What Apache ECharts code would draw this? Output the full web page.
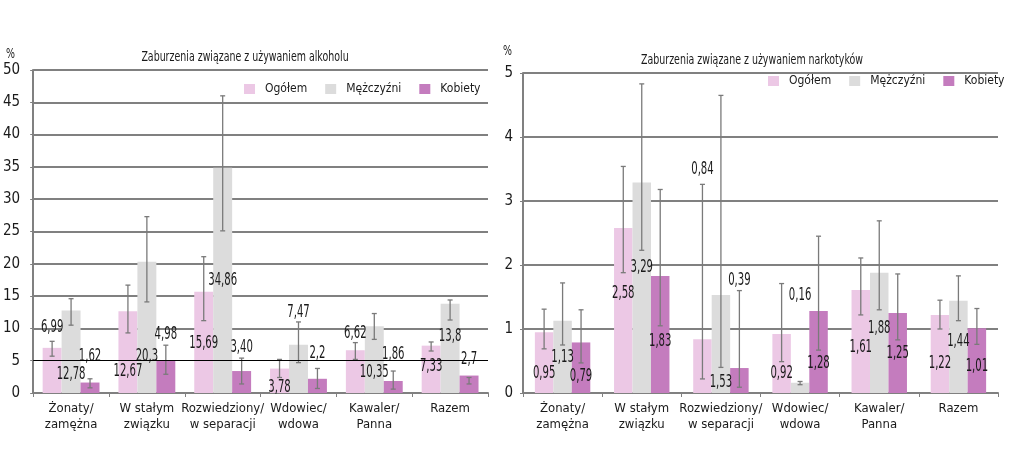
<!DOCTYPE html>
<html lang="pl">
<head>
<meta charset="UTF-8">
<title>Zaburzenia związane z używaniem alkoholu i narkotyków</title>
<script src="https://cdn.jsdelivr.net/npm/echarts@6/dist/echarts.min.js"></script>
<style>
  html, body { margin: 0; padding: 0; background: #fff; }
  #chart { width: 1024px; height: 464px; }
</style>
</head>
<body>
<div id="chart"></div>
<script>
// kategorie
const categories = ['Żonaty/\nzamężna', 'W stałym\nzwiązku', 'Rozwiedziony/\nw separacji', 'Wdowiec/\nwdowa', 'Kawaler/\nPanna', 'Razem'];
const seriesNames = ['Ogółem', 'Mężczyźni', 'Kobiety'];

// alkohol (%)
const alcTotal = ['6.99', '12.67', '15.69', '3.78', '6.62', '7.33'];
const alcMen = ['12.78', '20.3', '34.86', '7.47', '10.35', '13.8'];
const alcWomen = ['1.62', '4.98', '3.40', '2.2', '1.86', '2.7'];
const alcTotalLow = [5.7, 9.3, 11.2, 2.4, 5.2, 6.5];
const alcTotalHigh = [8.0, 16.7, 21.1, 5.2, 7.8, 7.9];
const alcMenLow = [10.5, 14.1, 25.1, 4.7, 8.3, 11.3];
const alcMenHigh = [14.6, 27.3, 46.0, 11.0, 12.3, 14.4];
const alcWomenLow = [0.8, 2.9, 1.4, 0.7, 0.6, 1.4];
const alcWomenHigh = [2.2, 7.4, 5.4, 3.8, 3.4, 2.4];

// narkotyki (%)
const drugTotal = ['0.95', '2.58', '0.84', '0.92', '1.61', '1.22'];
const drugMen = ['1.13', '3.29', '1.53', '0.16', '1.88', '1.44'];
const drugWomen = ['0.79', '1.83', '0.39', '1.28', '1.25', '1.01'];
const drugTotalLow = [0.69, 1.88, 0.22, 0.49, 1.22, 1.0];
const drugTotalHigh = [1.31, 3.54, 3.26, 1.71, 2.11, 1.45];
const drugMenLow = [0.75, 2.23, 0.4, 0.13, 1.3, 1.13];
const drugMenHigh = [1.72, 4.83, 4.65, 0.18, 2.69, 1.83];
const drugWomenLow = [0.47, 1.05, 0.09, 0.67, 0.83, 0.76];
const drugWomenHigh = [1.3, 3.18, 1.6, 2.45, 1.86, 1.32];

// gdzie w oryginale stoją etykiety wartości (w jednostkach osi)
const alcLabelAt = [
  [10.2, 3.3, 7.7, 0.8, 9.2, 4.1],
  [2.9, 5.6, 17.4, 12.4, 3.2, 8.8],
  [5.7, 9.1, 7.0, 6.1, 5.9, 5.2]
];
const drugLabelAt = [
  [0.31, 1.56, 3.49, 0.31, 0.71, 0.46],
  [0.55, 1.96, 0.17, 1.52, 1.01, 0.80],
  [0.25, 0.80, 1.75, 0.46, 0.62, 0.42]
];

const colors = ['#ecc8e5', '#dcdcdc', '#c47cbe'];
const FONT = "'Liberation Sans Narrow', 'DejaVu Sans Condensed', 'Liberation Sans', sans-serif";
const GRID_COLOR = '#808080';
const INK = '#1a1a1a';
// oryginał używa bardzo wąskiego kroju
const LABEL_SQUEEZE = 0.66;
const TITLE_SQUEEZE = 0.75;

function barSeries(axis, values, gap) {
  return values.map((vals, s) => ({
    name: seriesNames[s],
    type: 'bar',
    xAxisIndex: axis,
    yAxisIndex: axis,
    data: vals,
    barGap: '0%',
    barCategoryGap: gap * 100 + '%',
    itemStyle: { color: colors[s] },
    z: 2,
    silent: true
  }));
}

// słupki błędu + etykiety w jednej serii custom
function errorSeries(axis, values, lows, highs, labelAt, gap) {
  const data = [];
  const texts = [];
  for (let s = 0; s < 3; s++) {
    for (let c = 0; c < categories.length; c++) {
      data.push([c, lows[s][c], highs[s][c], labelAt[s][c], s]);
      texts.push(values[s][c].replace('.', ','));
    }
  }
  return {
    type: 'custom',
    xAxisIndex: axis,
    yAxisIndex: axis,
    data: data,
    z: 4,
    silent: true,
    renderItem: function (params, api) {
      const c = api.value(0), s = api.value(4);
      const band = api.size([1, 0])[0];
      const bw = band * (1 - gap) / 3;
      const x = api.coord([c, 0])[0] + (s - 1) * bw;
      const lo = api.coord([c, api.value(1)])[1];
      const hi = api.coord([c, api.value(2)])[1];
      const ly = api.coord([c, api.value(3)])[1];
      const st = { stroke: '#7a7a7a', lineWidth: 1.3 };
      return {
        type: 'group',
        children: [
          { type: 'line', shape: { x1: x, y1: lo, x2: x, y2: hi }, style: st },
          { type: 'line', shape: { x1: x - 2.5, y1: lo, x2: x + 2.5, y2: lo }, style: st },
          { type: 'line', shape: { x1: x - 2.5, y1: hi, x2: x + 2.5, y2: hi }, style: st },
          {
            type: 'text', z2: 10, x: x, y: ly, scaleX: LABEL_SQUEEZE,
            style: {
              text: texts[params.dataIndex], x: 0, y: 0,
              align: 'center', verticalAlign: 'middle',
              fontFamily: FONT, fontSize: 17, fill: INK
            }
          }
        ]
      };
    }
  };
}

function xAxis(grid) {
  return {
    type: 'category', gridIndex: grid, data: categories,
    axisLine: { lineStyle: { color: GRID_COLOR, width: 2 } },
    axisTick: { show: true, length: 4, lineStyle: { color: GRID_COLOR } },
    axisLabel: { fontFamily: FONT, fontSize: 13, color: INK, margin: 8, lineHeight: 16, interval: 0 }
  };
}

function yAxis(grid, max, interval, margin, lineColors) {
  return {
    type: 'value', gridIndex: grid, min: 0, max: max, interval: interval,
    axisLine: { show: true, lineStyle: { color: GRID_COLOR, width: 2 } },
    axisTick: { show: true, length: 3, lineStyle: { color: GRID_COLOR } },
    axisLabel: { fontFamily: FONT, fontSize: 15, color: INK, margin: margin },
    splitLine: { show: true, lineStyle: { color: lineColors, width: 2 } }
  };
}

function squeezedText(text, x, y, size, align) {
  return {
    type: 'text', x: x, y: y, scaleX: TITLE_SQUEEZE, silent: true,
    style: { text: text, x: 0, y: 0, align: align, verticalAlign: 'middle',
      fontFamily: FONT, fontSize: size, fill: INK }
  };
}

const GAP_L = 0.25, GAP_R = 0.30;
const leftLines = [GRID_COLOR, 'rgba(0,0,0,0)', GRID_COLOR, GRID_COLOR, GRID_COLOR, GRID_COLOR,
  GRID_COLOR, GRID_COLOR, GRID_COLOR, GRID_COLOR, GRID_COLOR];

const legendText = { fontFamily: FONT, fontSize: 12, color: INK, padding: [0, 0, 0, 5] };

const chart = echarts.init(document.getElementById('chart'), null, { renderer: 'canvas' });
chart.setOption({
  animation: false,
  textStyle: { fontFamily: FONT },
  graphic: [
    squeezedText('Zaburzenia związane z używaniem alkoholu', 245, 57, 14, 'center'),
    squeezedText('Zaburzenia związane z używaniem narkotyków', 752, 60, 14, 'center'),
    squeezedText('%', 6, 54, 14, 'left'),
    squeezedText('%', 503, 51, 14, 'left')
  ],
  legend: [
    { data: seriesNames, left: 244, top: 83, icon: 'rect', itemWidth: 11, itemHeight: 10, itemGap: 18,
      padding: 0, selectedMode: false, textStyle: legendText },
    { data: seriesNames, left: 768, top: 75, icon: 'rect', itemWidth: 11, itemHeight: 10, itemGap: 18,
      padding: 0, selectedMode: false, textStyle: legendText }
  ],
  grid: [
    { left: 30, top: 70, width: 458, height: 323 },
    { left: 523, top: 73, width: 475, height: 320 }
  ],
  xAxis: [xAxis(0), xAxis(1)],
  yAxis: [yAxis(0, 50, 5, 13, leftLines), yAxis(1, 5, 1, 10, GRID_COLOR)],
  series: [
    ...barSeries(0, [alcTotal, alcMen, alcWomen], GAP_L),
    ...barSeries(1, [drugTotal, drugMen, drugWomen], GAP_R),
    {
      type: 'line', xAxisIndex: 0, yAxisIndex: 0, data: [], z: 1, silent: true,
      markLine: { silent: true, symbol: 'none', label: { show: false },
        lineStyle: { color: '#000', width: 1, type: 'solid' }, data: [{ yAxis: 5 }] }
    },
    errorSeries(0, [alcTotal, alcMen, alcWomen],
      [alcTotalLow, alcMenLow, alcWomenLow], [alcTotalHigh, alcMenHigh, alcWomenHigh], alcLabelAt, GAP_L),
    errorSeries(1, [drugTotal, drugMen, drugWomen],
      [drugTotalLow, drugMenLow, drugWomenLow], [drugTotalHigh, drugMenHigh, drugWomenHigh], drugLabelAt, GAP_R)
  ]
});
</script>
</body>
</html>
